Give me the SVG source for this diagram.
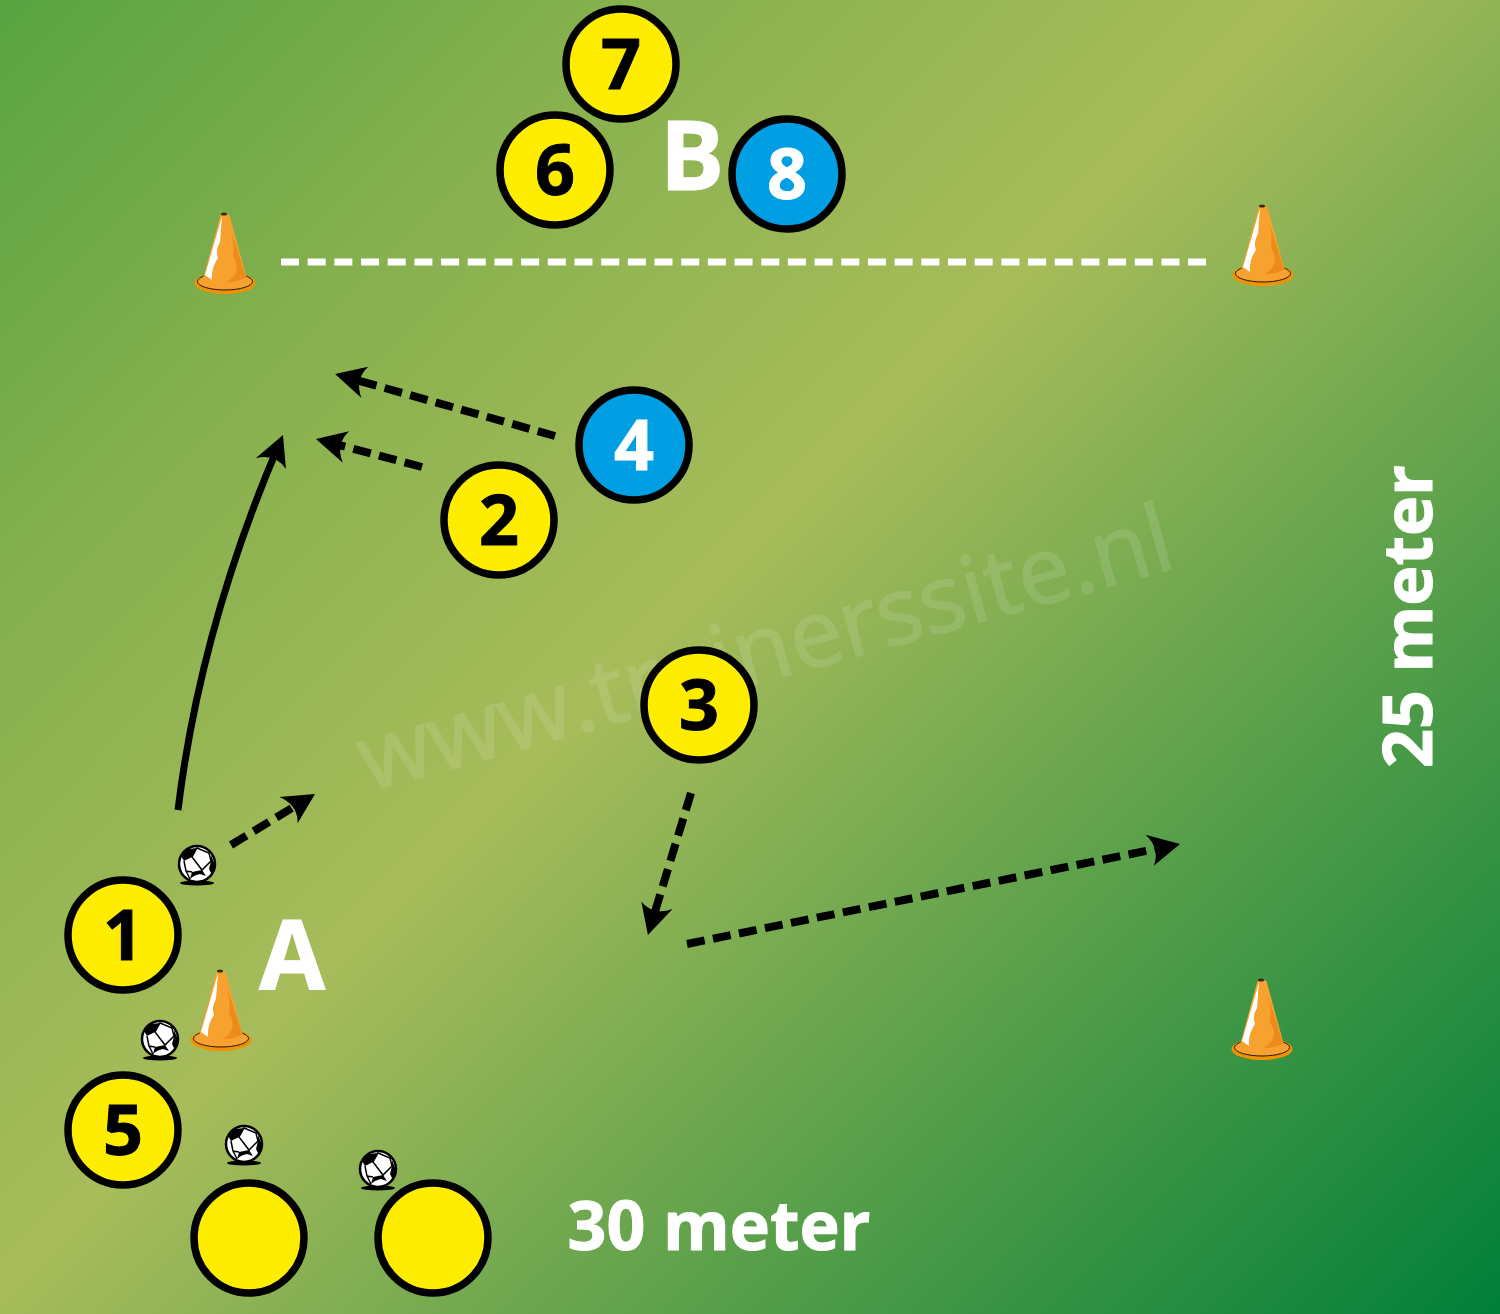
<svg xmlns="http://www.w3.org/2000/svg" width="1500" height="1314" viewBox="0 0 1500 1314">
<style>
.p{stroke:#000;stroke-width:7.500}
.y{fill:#ffed00}
.b{fill:#009fe3}
.t{font-family:"Open Sans","Noto Sans",sans-serif;font-weight:700;text-anchor:middle}
.n{font-size:70px;stroke-width:1}
.k{fill:#000;stroke:#000}
.w{fill:#fff;stroke:#fff;stroke-width:1}
.d{fill:none;stroke:#000;stroke-width:8;stroke-dasharray:18 8.500}
</style>
<defs>
<linearGradient id="g" gradientUnits="userSpaceOnUse" x1="0" y1="0" x2="1407" y2="1407">
<stop offset="0" stop-color="#57a441"/><stop offset="0.22" stop-color="#86b04e"/><stop offset="0.46" stop-color="#a8bc5a"/><stop offset="1" stop-color="#007f39"/>
</linearGradient>
<marker id="a" viewBox="0 0 34 36" refX="18" refY="18" markerUnits="userSpaceOnUse" markerWidth="34" markerHeight="36" orient="auto">
<path d="M32 18 L0 2 Q12 18 2 34Z" fill="#000"/>
</marker>
<g id="cone">
<ellipse cx="0" cy="23" rx="30.500" ry="11" fill="#f39200"/>
<ellipse cx="0" cy="21.500" rx="27.500" ry="8.500" fill="#f8a030" stroke="#1a1a1a" stroke-width="1"/>
<path d="M-4.500 -45 Q0 -47 4.500 -45 L21.500 17 Q21 24 0 25 Q-21 24 -21.500 17Z" fill="#f7a12f"/>
<path d="M6 -30 L21 17 Q14 22 2 22 Q18 12 8 -4 Q10 -16 6 -30Z" fill="#ec8a1c"/>
<path d="M-3 -44 L-20 15 L-13 20 Q-14 8 -7 -2 Q-10 -10 -5 -18Z" fill="#fff"/>
<ellipse cx="-1" cy="-46" rx="3" ry="1.500" fill="#3a2a10"/>
</g>
<g id="ball">
<ellipse cx="0" cy="19" rx="17" ry="2.500" fill="#000"/>
<circle cx="0" cy="0" r="18" fill="#fff" stroke="#000" stroke-width="2.500"/>
<path d="M-9 -15 L0 -16 L-5 -7 L-13 -3 L-16 -8Z M14 -9 L18 1 L15 11 L12 5 L14 -3Z M-7 15 L-5 8 L5 6 L9 12 L3 10 Q-3 11 -7 15Z" fill="#000"/>
<path d="M0 -16 L12 -11 L14 -3 L5 6 L-5 -7Z M-13 -3 L-11 7 L-5 8 M-11 7 L-7 15" fill="none" stroke="#000" stroke-width="1.500"/>
</g>
</defs>
<rect id="field" width="1500" height="1314" fill="url(#g)"/>
<text id="watermark" transform="translate(368 792) rotate(-15.500)" font-family="'Open Sans','Noto Sans',sans-serif" font-size="93.500" fill="#fff" stroke="#fff" stroke-width="1.500" opacity="0.11">www.trainerssite.nl</text>
<g id="connectors">
<path d="M281 262H1206" fill="none" stroke="#fff" stroke-width="7" stroke-dasharray="18 8.680"/>
<path class="d" d="M555 436L348.500 377.800" marker-end="url(#a)"/>
<path class="d" d="M422 467L329.500 442.600" marker-end="url(#a)"/>
<path d="M178 810Q200 630 277.500 447.900" fill="none" stroke="#000" stroke-width="7" marker-end="url(#a)"/>
<path class="d" d="M231 845L303 801.300" marker-end="url(#a)"/>
<path class="d" d="M691 793L652 921.600" marker-end="url(#a)"/>
<path class="d" d="M687 944L1166.300 846.800" marker-end="url(#a)"/>
</g>
<g id="cone1"><use href="#cone" x="225" y="260"/></g>
<g id="cone2"><use href="#cone" x="1263" y="252"/></g>
<g id="cone3"><use href="#cone" x="221" y="1017"/></g>
<g id="cone4"><use href="#cone" x="1262" y="1026"/></g>
<g id="ball1"><use href="#ball" x="197" y="864"/></g>
<g id="ball2"><use href="#ball" x="160" y="1039"/></g>
<g id="ball3"><use href="#ball" x="244" y="1144"/></g>
<g id="ball4"><use href="#ball" x="378" y="1169"/></g>
<g id="n7"><circle class="p y" cx="621" cy="64" r="55"/><text class="t n k" x="621" y="89">7</text></g>
<g id="n6"><circle class="p y" cx="555" cy="170" r="55"/><text class="t n k" x="555" y="195">6</text></g>
<g id="n8"><circle class="p b" cx="787" cy="174" r="55"/><text class="t n w" x="787" y="199">8</text></g>
<g id="n4"><circle class="p b" cx="634" cy="445" r="55"/><text class="t n w" x="634" y="470">4</text></g>
<g id="n2"><circle class="p y" cx="499" cy="520" r="55"/><text class="t n k" x="499" y="545">2</text></g>
<g id="n3"><circle class="p y" cx="699" cy="705" r="55"/><text class="t n k" x="699" y="730">3</text></g>
<g id="n1"><circle class="p y" cx="123" cy="935" r="55"/><text class="t n k" x="123" y="960">1</text></g>
<g id="n5"><circle class="p y" cx="123" cy="1130" r="55"/><text class="t n k" x="123" y="1155">5</text></g>
<g id="e1"><circle class="p y" cx="249" cy="1238" r="55"/></g>
<g id="e2"><circle class="p y" cx="433" cy="1238" r="55"/></g>
<text class="t w" x="692" y="190" font-size="96">B</text>
<text class="t w" x="292" y="990" font-size="96">A</text>
<text class="t w" x="719" y="1250" font-size="68">30 meter</text>
<text class="t w" font-size="68" transform="translate(1432 616.500) rotate(-90)">25 meter</text>
</svg>
